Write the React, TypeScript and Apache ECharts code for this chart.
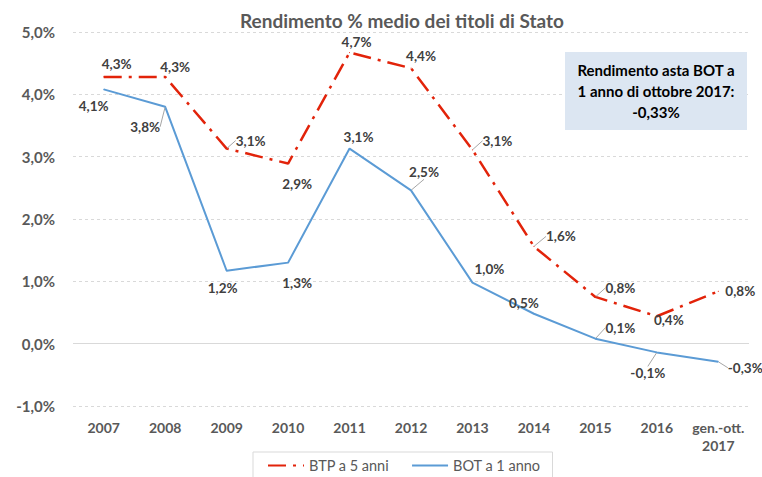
import React, { useEffect, useRef } from "react";
import * as echarts from "echarts";

const categories = ["2007", "2008", "2009", "2010", "2011", "2012", "2013", "2014", "2015", "2016", "gen.-ott.\n2017"];
const btp5 = [4.28, 4.28, 3.13, 2.89, 4.67, 4.42, 3.11, 1.56, 0.75, 0.44, 0.84];
const bot1 = [4.08, 3.8, 1.17, 1.3, 3.13, 2.46, 0.98, 0.48, 0.08, -0.14, -0.29];
const yTicks = { min: -1, max: 5, interval: 1 };

// label offsets (px) relative to each point
const btpLabelDx = [13, 10, 24, 9, 7, 10, 25, 27, 25, 12, 22];
const btpLabelDy = [-13, -10, -8, 20, -11, -12, -9, -10, -9, 4, 0];
const btpLeader = [false, false, true, false, false, false, true, true, true, false, false];
const botLabelDx = [-10, -20, -4, 9, 9, 13, 17, -10, 25, -9, 27];
const botLabelDy = [17, 20, 17, 20, -12, -18, -14, -11, -11, 21, 6];
const botLeader = [false, true, false, false, false, true, false, false, true, true, true];

const fmt = (v: number) => v.toFixed(1).replace(".", ",") + "%";

export default function App() {
  const ref = useRef<HTMLDivElement>(null);
  useEffect(() => {
    const chart = echarts.init(ref.current!, null, { renderer: "svg" });
    const font = "Lato, 'Open Sans', sans-serif";
    const labelStyle = {
      show: true,
      position: "inside" as const,
      color: "#404040",
      fontWeight: "bold" as const,
      fontSize: 13.5,
      fontFamily: font,
      formatter: (p: any) => fmt(p.value),
    };
    const mk = (vals: number[], leaders: boolean[]) =>
      vals.map((v, i) => ({ value: v, labelLine: { show: leaders[i] } }));
    chart.setOption({
      animation: false,
      textStyle: { fontFamily: font },
      title: {
        text: "Rendimento % medio dei titoli di Stato",
        left: 397,
        textAlign: "center",
        top: 6,
        textStyle: { fontSize: 19, fontWeight: "bold", color: "#595959", fontFamily: font },
      },
      grid: { left: 73, right: 13, top: 32, bottom: 71, containLabel: false },
      legend: {
        bottom: -6,
        left: 253,
        padding: [6, 12, 10, 14],
        borderColor: "#d9d9d9",
        borderWidth: 1,
        itemWidth: 36,
        itemHeight: 10,
        itemGap: 22,
        itemStyle: { opacity: 0 },
        textStyle: { color: "#595959", fontSize: 14.5, fontFamily: font },
        data: ["BTP a 5 anni", "BOT a 1 anno"],
      },
      xAxis: {
        type: "category",
        data: categories,
        boundaryGap: true,
        axisLine: { show: false },
        axisTick: { show: false },
        axisLabel: {
          color: "#595959",
          fontWeight: "bold",
          fontSize: 14,
          fontFamily: font,
          margin: 12,
          lineHeight: 18,
          interval: 0,
        },
      },
      yAxis: {
        type: "value",
        min: yTicks.min,
        max: yTicks.max,
        interval: yTicks.interval,
        axisLine: { show: false },
        axisTick: { show: false },
        axisLabel: {
          color: "#595959",
          fontWeight: "bold",
          fontSize: 15,
          fontFamily: font,
          margin: 18,
          formatter: (v: number) => fmt(v),
        },
        splitLine: { lineStyle: { color: "#d9d9d9", type: [3, 3], width: 1 } },
      },
      graphic: [
        {
          type: "group",
          z: 100,
          children: [
            {
              type: "rect",
              z: 100,
              shape: { x: 565, y: 52, width: 182, height: 78 },
              style: { fill: "#dce6f2" },
            },
            {
              type: "text",
              z: 101,
              x: 656,
              y: 91,
              style: {
                text: "Rendimento asta BOT a\n1 anno di ottobre 2017:\n-0,33%",
                fill: "#000000",
                font: "bold 15px Lato, 'Open Sans', sans-serif",
                align: "center",
                verticalAlign: "middle",
                lineHeight: 21,
              },
            },
          ],
        },
      ],
      series: [
        {
          name: "BTP a 5 anni",
          type: "line",
          data: mk(btp5, btpLeader),
          symbol: "circle",
          symbolSize: 1,
          itemStyle: { color: "#e2230a" },
          lineStyle: { color: "#e2230a", width: 2.5, type: [18, 7, 3, 7] },
          label: labelStyle,
          labelLine: { show: true, lineStyle: { color: "#a6a6a6", width: 1 } },
          labelLayout: (p: any) => ({ dx: btpLabelDx[p.dataIndex], dy: btpLabelDy[p.dataIndex] }),
          z: 3,
          markLine: {
            silent: true,
            symbol: "none",
            label: { show: false },
            lineStyle: { color: "#d9d9d9", type: "solid", width: 1 },
            data: [{ yAxis: 0 }],
            z: 1,
          },
        },
        {
          name: "BOT a 1 anno",
          type: "line",
          data: mk(bot1, botLeader),
          symbol: "circle",
          symbolSize: 1,
          itemStyle: { color: "#5b9bd5" },
          lineStyle: { color: "#5b9bd5", width: 2 },
          label: labelStyle,
          labelLine: { show: true, lineStyle: { color: "#a6a6a6", width: 1 } },
          labelLayout: (p: any) => ({ dx: botLabelDx[p.dataIndex], dy: botLabelDy[p.dataIndex] }),
          z: 2,
        },
      ],
    });
    return () => chart.dispose();
  }, []);
  return (
    <div
      ref={ref}
      style={{ position: "fixed", left: 0, top: 0, width: 762, height: 477, background: "#fff" }}
    />
  );
}
